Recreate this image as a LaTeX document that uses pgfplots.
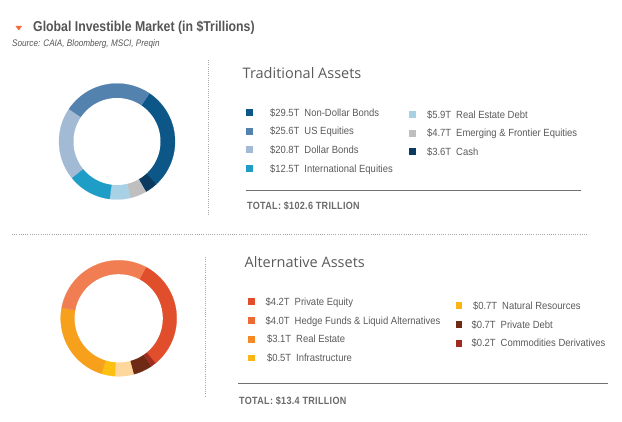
\documentclass[border=0pt]{standalone}
\usepackage{pgfplots}
\pgfplotsset{compat=1.18}
\usepackage{fontspec}
\setmainfont{Liberation Sans}
\newfontfamily\cond[FakeStretch=0.86]{Liberation Sans}
\newfontfamily\condleg[FakeStretch=0.91]{Liberation Sans}
\newfontfamily\condls[FakeStretch=0.86,LetterSpace=3]{Liberation Sans}
\newfontfamily\head{Open Sans}

\definecolor{titlegray}{HTML}{555555}
\definecolor{legtext}{HTML}{5A5A5A}
\definecolor{headgray}{HTML}{5A5A5A}
\definecolor{totgray}{HTML}{6A6A6A}
\definecolor{rulegray}{HTML}{707070}
\definecolor{dotgray}{HTML}{A8A8A8}
\definecolor{tri}{HTML}{F26B3A}
% traditional
\definecolor{ndb}{HTML}{0D5688}
\definecolor{useq}{HTML}{5282AD}
\definecolor{dolb}{HTML}{A3BAD4}
\definecolor{intl}{HTML}{1E9DC7}
\definecolor{red}{HTML}{A8D1E6}
\definecolor{emg}{HTML}{BFBFBF}
\definecolor{cash}{HTML}{0A3A5F}
% alternative
\definecolor{pe}{HTML}{E04E2B}
\definecolor{hf}{HTML}{F07E52}
\definecolor{hfl}{HTML}{EE6A35}
\definecolor{re}{HTML}{F6A01C}
\definecolor{rel}{HTML}{F58A25}
\definecolor{inf}{HTML}{FDC010}
\definecolor{infl}{HTML}{FDB515}
\definecolor{nr}{HTML}{FDD79B}
\definecolor{nrl}{HTML}{FDB515}
\definecolor{pd}{HTML}{6E2A14}
\definecolor{cd}{HTML}{9F2C1F}

\newcommand{\donutseg}[2]{%
  \pgfmathsetmacro{\aend}{\acur-#1/\tot*360}%
  \edef\dotemp{\noexpand\addplot[fill=#2, draw=#2, line width=0.2pt, domain=\aend:\acur, samples=60, forget plot] ({cos(x)},{sin(x)}) -- (axis cs:0,0) -- cycle;}%
  \dotemp
  \global\let\acur\aend}

\pgfplotsset{
  donut/.style={hide axis, scale only axis, width=116pt, height=116pt,
    xmin=-1, xmax=1, ymin=-1, ymax=1, anchor=center, clip=false},
  legax/.style={hide axis, scale only axis, width=5pt, height=5pt,
    xmin=0, xmax=1, ymin=0, ymax=1, anchor=north west,
    legend cell align=left,
    legend image code/.code={\fill[##1, draw=none] (0pt,-3.4pt) rectangle (6.8pt,3.4pt);},
    legend style={at={(0,1)}, anchor=north west, draw=none, fill=none,
      inner sep=0pt, outer sep=0pt, row sep=11.4pt, text=legtext,
      /tikz/every even column/.style={column sep=0pt},
      /tikz/every odd column/.style={column sep=0pt},
      font=\condleg\fontsize{10.4}{12}\selectfont,
      nodes={inner sep=0pt, text height=7.3pt, text depth=0pt}}},
}

\begin{document}
\begin{tikzpicture}
\path[use as bounding box] (0pt,0pt) rectangle (622pt,-422pt);

% header
\fill[tri] (15.5pt,-26pt) -- (22pt,-26pt) -- (18.75pt,-30.5pt) -- cycle;
\node[anchor=base west, inner sep=0pt, text=titlegray, font=\cond\bfseries\fontsize{14.3}{16}\selectfont] at (33pt,-31.7pt) {Global Investible Market (in \$Trillions)};
\node[anchor=base west, inner sep=0pt, text=titlegray, font=\cond\itshape\fontsize{9.5}{11}\selectfont] at (12pt,-46.5pt) {Source: CAIA, Bloomberg, MSCI, Preqin};

% separators
\draw[dotgray, line width=1pt, dash pattern=on 1pt off 1.2pt] (208.3pt,-60pt) -- (208.3pt,-215pt);
\draw[dotgray, line width=1pt, dash pattern=on 1pt off 1.2pt] (205pt,-257pt) -- (205pt,-397pt);
\draw[dotgray, line width=1pt, dash pattern=on 1pt off 1.2pt] (12pt,-234.3pt) -- (587pt,-234.3pt);
\draw[rulegray, line width=0.9pt] (246pt,-190pt) -- (581pt,-190pt);
\draw[rulegray, line width=0.9pt] (238pt,-383.3pt) -- (608pt,-383.3pt);

% headings and totals
\node[anchor=base west, inner sep=0pt, text=headgray, font=\head\fontsize{14.5}{17}\selectfont] at (242.5pt,-79pt) {Traditional Assets};
\node[anchor=base west, inner sep=0pt, text=headgray, font=\head\fontsize{14.5}{17}\selectfont] at (244.5pt,-267.7pt) {Alternative Assets};
\node[anchor=base west, inner sep=0pt, text=totgray, font=\condls\bfseries\fontsize{10.5}{12}\selectfont] at (247pt,-210pt) {TOTAL: \$102.6 TRILLION};
\node[anchor=base west, inner sep=0pt, text=totgray, font=\condls\bfseries\fontsize{10.5}{12}\selectfont] at (239pt,-404.3pt) {TOTAL: \$13.4 TRILLION};

% traditional donut
\begin{axis}[donut, at={(117pt,-141.5pt)}]
\def\tot{102.6}\gdef\acur{56}
\donutseg{29.5}{ndb}
\donutseg{3.6}{cash}
\donutseg{4.7}{emg}
\donutseg{5.9}{red}
\donutseg{12.5}{intl}
\donutseg{20.8}{dolb}
\donutseg{25.6}{useq}
\addplot[fill=white, draw=none, domain=0:360, samples=150, forget plot] ({0.75*cos(x)},{0.75*sin(x)}) -- cycle;
\end{axis}

% alternative donut
\begin{axis}[donut, at={(118.7pt,-318.3pt)}]
\def\tot{13.4}\gdef\acur{62}
\donutseg{4.2}{pe}
\donutseg{0.2}{cd}
\donutseg{0.7}{pd}
\donutseg{0.7}{nr}
\donutseg{0.5}{inf}
\donutseg{3.1}{re}
\donutseg{4.0}{hf}
\addplot[fill=white, draw=none, domain=0:360, samples=150, forget plot] ({0.76*cos(x)},{0.76*sin(x)}) -- cycle;
\end{axis}

% traditional legends
\begin{axis}[legax, at={(246pt,-108.8pt)}]
\addlegendimage{fill=ndb}\addlegendentry{\hspace{17.2pt}\$29.5T\hspace{5pt}Non-Dollar Bonds}
\addlegendimage{fill=useq}\addlegendentry{\hspace{17.2pt}\$25.6T\hspace{5pt}US Equities}
\addlegendimage{fill=dolb}\addlegendentry{\hspace{17.2pt}\$20.8T\hspace{5pt}Dollar Bonds}
\addlegendimage{fill=intl}\addlegendentry{\hspace{17.2pt}\$12.5T\hspace{5pt}International Equities}
\end{axis}
\begin{axis}[legax, at={(409pt,-110.8pt)}]
\addlegendimage{fill=red}\addlegendentry{\hspace{11.2pt}\$5.9T\hspace{5pt}Real Estate Debt}
\addlegendimage{fill=emg}\addlegendentry{\hspace{11.2pt}\$4.7T\hspace{5pt}Emerging \& Frontier Equities}
\addlegendimage{fill=cash}\addlegendentry{\hspace{11.2pt}\$3.6T\hspace{5pt}Cash}
\end{axis}

% alternative legends
\begin{axis}[legax, at={(248pt,-298.2pt)}]
\addlegendimage{fill=pe}\addlegendentry{\hspace{10.7pt}\$4.2T\hspace{5pt}Private Equity}
\addlegendimage{fill=hfl}\addlegendentry{\hspace{10.7pt}\$4.0T\hspace{5pt}Hedge Funds \& Liquid Alternatives}
\addlegendimage{fill=rel}\addlegendentry{\hspace{12.2pt}\$3.1T\hspace{5pt}Real Estate}
\addlegendimage{fill=infl}\addlegendentry{\hspace{12.2pt}\$0.5T\hspace{5pt}Infrastructure}
\end{axis}
\begin{axis}[legax, at={(455.5pt,-302.2pt)}]
\addlegendimage{fill=nrl}\addlegendentry{\hspace{10.7pt}\$0.7T\hspace{5pt}Natural Resources}
\addlegendimage{fill=pd}\addlegendentry{\hspace{9.2pt}\$0.7T\hspace{5pt}Private Debt}
\addlegendimage{fill=cd}\addlegendentry{\hspace{9.2pt}\$0.2T\hspace{5pt}Commodities Derivatives}
\end{axis}
\end{tikzpicture}
\end{document}
